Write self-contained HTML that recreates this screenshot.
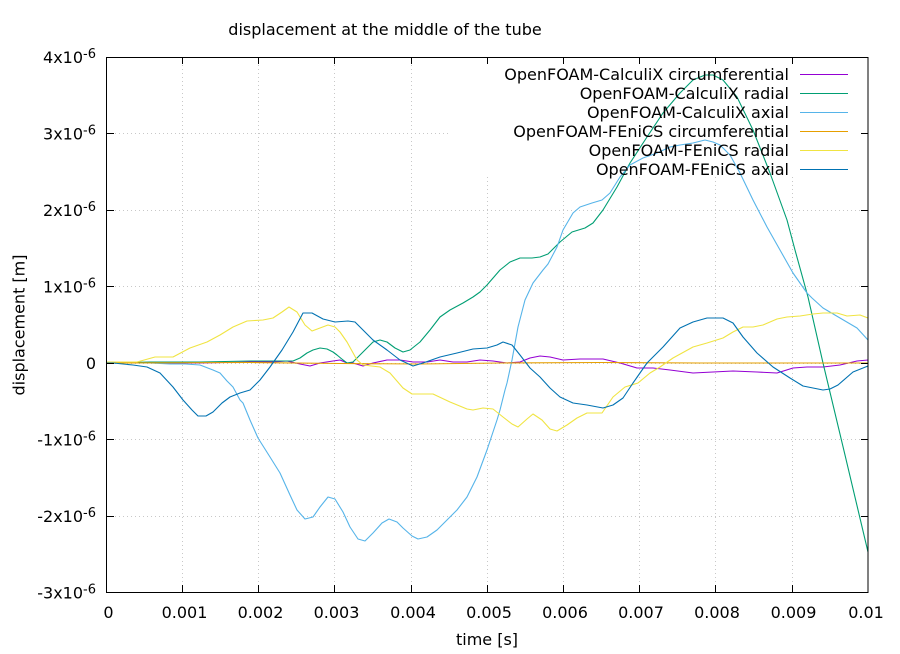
<!DOCTYPE html>
<html><head><meta charset="utf-8"><style>
html,body{margin:0;padding:0;background:#fff;}
svg{display:block;}
text{font-family:"DejaVu Sans","Liberation Sans",sans-serif;fill:#000;}
</style></head><body>
<svg width="900" height="654" viewBox="0 0 900 654" xmlns="http://www.w3.org/2000/svg">
<rect x="0" y="0" width="900" height="654" fill="#fff"/>
<!-- grid -->
<g stroke="#c8c8c8" stroke-width="1" stroke-dasharray="1 3" fill="none">
<line x1="182.5" y1="57" x2="182.5" y2="592"/>
<line x1="258.5" y1="57" x2="258.5" y2="592"/>
<line x1="334.5" y1="57" x2="334.5" y2="592"/>
<line x1="411.5" y1="57" x2="411.5" y2="592"/>
<line x1="487.5" y1="57" x2="487.5" y2="592"/>
<line x1="563.5" y1="57" x2="563.5" y2="592"/>
<line x1="639.5" y1="57" x2="639.5" y2="592"/>
<line x1="715.5" y1="57" x2="715.5" y2="592"/>
<line x1="792.5" y1="57" x2="792.5" y2="592"/>
<line x1="107" y1="133.5" x2="868" y2="133.5"/>
<line x1="107" y1="210.5" x2="868" y2="210.5"/>
<line x1="107" y1="286.5" x2="868" y2="286.5"/>
<line x1="107" y1="363.5" x2="868" y2="363.5"/>
<line x1="107" y1="439.5" x2="868" y2="439.5"/>
<line x1="107" y1="516.5" x2="868" y2="516.5"/>
</g>
<!-- legend background -->
<rect x="450" y="58" width="417" height="119" fill="#fff"/>
<!-- series -->
<g fill="none" stroke-width="1.1" stroke-linejoin="round">
<polyline stroke="#9400d3" points="107,363 200,363 250,362 273,362 287,361 300,364 310,366 320,363 333,361 340,360 347,363 353,363 363,366 373,363 387,360 400,360 413,362 427,362 440,360 453,362 467,362 480,360 493,361 507,363 520,362 530,358 540,356 550,357 563,360 580,359 603,359 620,363 637,368 653,368 670,370 693,373 713,372 733,371 757,372 777,373 793,368 807,367 823,367 840,365 857,361 868,360"/>
<polyline stroke="#009e73" points="107,363 150,362 200,362 250,361 280,361 293,361 300,358 307,353 313,350 320,348 327,349 333,352 337,355 343,360 347,363 353,362 360,355 367,348 373,342 380,340 387,342 395,348 403,352 410,350 415,346 420,342 430,330 440,317 450,310 463,303 473,297 480,292 487,285 500,270 510,262 520,258 532,258 540,257 548,254 560,242 572,232 585,228 593,223 603,210 617,187 630,163 647,137 663,113 680,93 693,80 705,75 713,75 723,80 737,97 753,130 770,173 787,220 795,250 808,297 823,363 845,455 868,552"/>
<polyline stroke="#56b4e9" points="107,363 130,363 150,363 170,364 185,364 200,365 213,370 220,373 227,381 233,387 240,400 243,403 250,420 258,438 270,457 280,473 290,495 297,510 305,519 313,517 320,507 328,497 335,499 343,512 350,527 358,539 365,541 373,533 382,523 389,519 397,522 403,528 412,536 418,539 427,537 437,530 447,520 457,510 467,497 477,477 487,450 497,420 500,410 505,390 507,383 512,360 518,327 525,300 533,283 543,270 548,264 557,247 563,230 573,213 580,207 592,203 602,200 610,193 620,177 630,165 643,158 657,153 670,147 680,145 693,143 705,140 713,142 720,145 730,155 740,173 753,200 767,227 780,250 793,273 807,293 812,298 823,308 840,318 857,328 868,340"/>
<polyline stroke="#e69f00" points="107,363 250,362.5 340,363.5 420,364 500,363 600,362.5 700,363 868,363"/>
<polyline stroke="#f0e442" points="107,362 113,362 137,362 155,357 173,357 190,348 207,342 220,335 233,327 247,321 263,320 273,318 282,312 289,307 297,312 305,325 312,331 320,328 328,325 335,327 340,332 347,342 357,360 363,365 380,367 390,373 403,388 412,394 433,394 450,402 467,409 473,410 483,408 493,409 503,417 512,424 518,427 527,419 533,414 542,420 550,429 557,431 567,425 577,418 587,413 602,413 613,397 625,387 638,383 650,373 660,367 673,358 693,347 707,343 723,338 733,332 743,327 753,327 763,325 777,319 787,317 800,316 813,314 823,313 837,313 847,316 860,315 868,318"/>
<polyline stroke="#0072b2" points="107,363 113,363 133,365 147,367 160,373 173,387 183,400 192,410 198,416 206,416 213,412 222,403 230,397 240,393 250,390 260,380 270,367 282,350 293,332 303,313 312,313 323,319 335,322 348,321 355,322 360,327 373,340 387,350 400,360 413,366 423,363 440,357 457,353 473,349 487,348 497,345 503,342 512,345 520,355 530,368 540,377 550,388 560,397 573,403 587,405 603,408 613,405 623,398 633,383 647,363 663,347 680,328 693,322 707,318 723,318 733,323 743,337 757,353 773,367 790,378 803,386 823,390 830,389 838,385 853,372 868,366"/>
</g>
<!-- legend -->
<g font-size="16" text-anchor="end">
<text x="789" y="80">OpenFOAM-CalculiX circumferential</text>
<text x="789" y="99">OpenFOAM-CalculiX radial</text>
<text x="789" y="118">OpenFOAM-CalculiX axial</text>
<text x="789" y="137">OpenFOAM-FEniCS circumferential</text>
<text x="789" y="156">OpenFOAM-FEniCS radial</text>
<text x="789" y="175">OpenFOAM-FEniCS axial</text>
</g>
<g stroke-width="1.1">
<line x1="800" y1="74.5" x2="848" y2="74.5" stroke="#9400d3"/>
<line x1="800" y1="93.5" x2="848" y2="93.5" stroke="#009e73"/>
<line x1="800" y1="112.5" x2="848" y2="112.5" stroke="#56b4e9"/>
<line x1="800" y1="131.5" x2="848" y2="131.5" stroke="#e69f00"/>
<line x1="800" y1="150.5" x2="848" y2="150.5" stroke="#f0e442"/>
<line x1="800" y1="169.5" x2="848" y2="169.5" stroke="#0072b2"/>
</g>
<!-- border and ticks -->
<g stroke="#000" stroke-width="1" fill="none">
<rect x="106.5" y="57.5" width="761.5" height="535"/>
<path d="M182.5,592 v-7 M258.5,592 v-7 M334.5,592 v-7 M411.5,592 v-7 M487.5,592 v-7 M563.5,592 v-7 M639.5,592 v-7 M715.5,592 v-7 M792.5,592 v-7
M182.5,57 v7 M258.5,57 v7 M334.5,57 v7 M411.5,57 v7 M487.5,57 v7 M563.5,57 v7 M639.5,57 v7 M715.5,57 v7 M792.5,57 v7
M107,133.5 h7 M107,210.5 h7 M107,286.5 h7 M107,363.5 h7 M107,439.5 h7 M107,516.5 h7
M868,133.5 h-7 M868,210.5 h-7 M868,286.5 h-7 M868,363.5 h-7 M868,439.5 h-7 M868,516.5 h-7"/>
</g>
<!-- y tick labels -->
<g font-size="16" text-anchor="end">
<text x="96" y="63">4x10<tspan dy="-5" font-size="13">-6</tspan></text>
<text x="96" y="139.5">3x10<tspan dy="-5" font-size="13">-6</tspan></text>
<text x="96" y="216">2x10<tspan dy="-5" font-size="13">-6</tspan></text>
<text x="96" y="292.5">1x10<tspan dy="-5" font-size="13">-6</tspan></text>
<text x="96" y="369">0</text>
<text x="96" y="445.5">-1x10<tspan dy="-5" font-size="13">-6</tspan></text>
<text x="96" y="522">-2x10<tspan dy="-5" font-size="13">-6</tspan></text>
<text x="96" y="598.5">-3x10<tspan dy="-5" font-size="13">-6</tspan></text>
</g>
<!-- x tick labels -->
<g font-size="16" text-anchor="middle">
<text x="108.5" y="618">0</text>
<text x="184.5" y="618">0.001</text>
<text x="260.5" y="618">0.002</text>
<text x="336.5" y="618">0.003</text>
<text x="413" y="618">0.004</text>
<text x="489" y="618">0.005</text>
<text x="565" y="618">0.006</text>
<text x="641" y="618">0.007</text>
<text x="717" y="618">0.008</text>
<text x="793.5" y="618">0.009</text>
<text x="866" y="618">0.01</text>
</g>
<!-- labels -->
<text x="385" y="35" font-size="16" text-anchor="middle">displacement at the middle of the tube</text>
<text x="487" y="645" font-size="16" text-anchor="middle">time [s]</text>
<text transform="translate(24.5,325) rotate(-90)" font-size="16" text-anchor="middle">displacement [m]</text>
</svg>
</body></html>
